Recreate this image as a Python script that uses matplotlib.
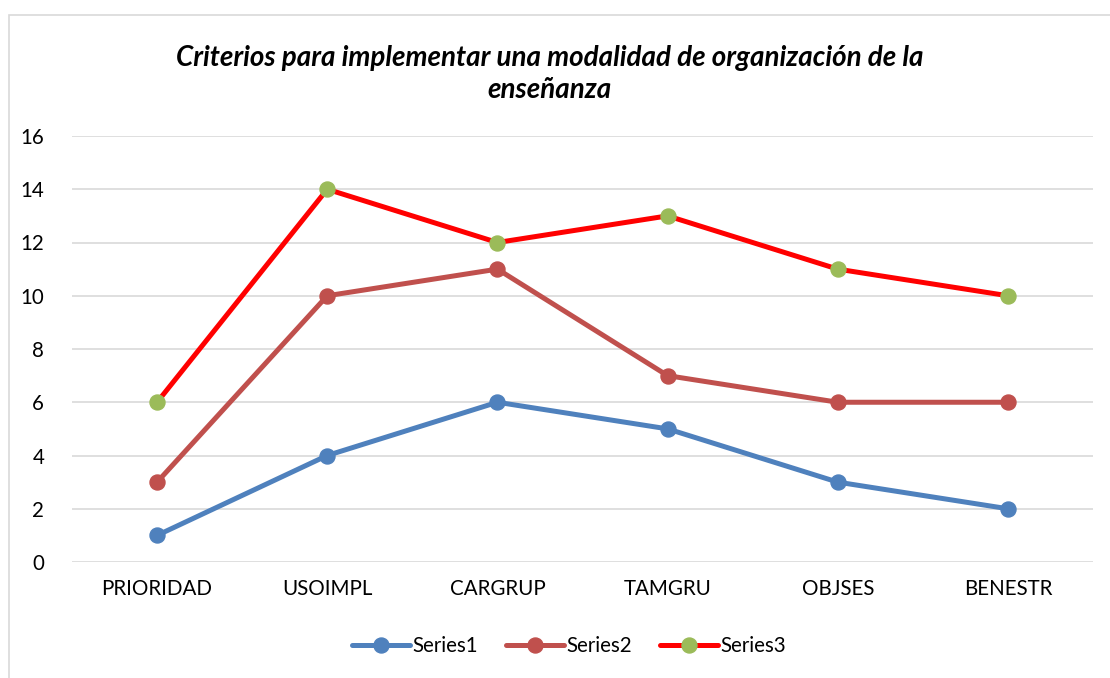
import matplotlib
matplotlib.use("Agg")
import matplotlib.pyplot as plt
from matplotlib.patches import Rectangle

categories = ["PRIORIDAD", "USOIMPL", "CARGRUP", "TAMGRU", "OBJSES", "BENESTR"]
series1 = [1, 4, 6, 5, 3, 2]
series2 = [3, 10, 11, 7, 6, 6]
series3 = [6, 14, 12, 13, 11, 10]
series_names = ["Series1", "Series2", "Series3"]
title = "Criterios para implementar una modalidad de organización de la\nenseñanza"

plt.rcParams['font.family'] = ['Lato', 'DejaVu Sans']

W, H = 1110, 678
fig = plt.figure(figsize=(W / 100, H / 100), dpi=100)
fig.patch.set_facecolor("white")

# outer chart border
fig.patches.append(Rectangle((8.5 / W, -0.01), 1.2, 1 - 14.5 / H + 0.01,
                             transform=fig.transFigure, fill=False,
                             edgecolor="#D9D9D9", linewidth=1.2))

ax = fig.add_axes([72 / W, 1 - 562 / H, (1093 - 72) / W, (562 - 136) / H])
x = list(range(len(categories)))

lw, ms = 3.6, 10.8
ax.plot(x, series1, color="#4F81BD", linewidth=lw, marker="o", markersize=ms,
        markerfacecolor="#4F81BD", markeredgecolor="#4F81BD", label=series_names[0],
        solid_capstyle="round", zorder=3)
ax.plot(x, series2, color="#C0504D", linewidth=lw, marker="o", markersize=ms,
        markerfacecolor="#C0504D", markeredgecolor="#C0504D", label=series_names[1],
        solid_capstyle="round", zorder=3)
ax.plot(x, series3, color="#FF0000", linewidth=lw, marker="o", markersize=ms,
        markerfacecolor="#9BBB59", markeredgecolor="#9BBB59", label=series_names[2],
        solid_capstyle="round", zorder=3)

ax.set_xlim(-0.5, len(categories) - 0.5)
ax.set_ylim(0, 16)
ax.set_yticks(range(0, 17, 2))
ax.set_xticks(x)
ax.set_xticklabels(categories)
ax.grid(axis="y", color="#D9D9D9", linewidth=1.2)
ax.set_axisbelow(True)
for s in ax.spines.values():
    s.set_visible(False)
ax.tick_params(axis="both", length=0, labelsize=14.8, colors="black")
ax.tick_params(axis="y", pad=20)
ax.tick_params(axis="x", pad=12)

fig.text(550 / W, 1 - 74 / H, title, ha="center", va="center",
         fontsize=20, fontweight="bold", fontstyle="italic", linespacing=1.25)

leg = fig.legend(loc="center", bbox_to_anchor=(569 / W, 1 - 646 / H), ncol=3,
                 frameon=False, fontsize=14.8, handlelength=2.8, handletextpad=0.1,
                 columnspacing=1.4)

fig.savefig("out.png", dpi=100, facecolor="white")
